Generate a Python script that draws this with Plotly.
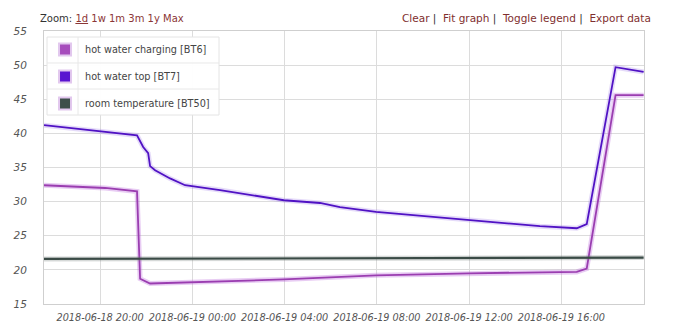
import plotly.graph_objects as go

# ---- data ----
t_bt6 = ["2018-06-18 17:34", "2018-06-18 20:13", "2018-06-18 21:36", "2018-06-18 21:44",
         "2018-06-18 22:10", "2018-06-19 03:58", "2018-06-19 07:58", "2018-06-19 12:00",
         "2018-06-19 16:40", "2018-06-19 17:06", "2018-06-19 18:21", "2018-06-19 19:34"]
v_bt6 = [32.4, 32.0, 31.5, 18.7, 18.0, 18.6, 19.2, 19.5, 19.7, 20.2, 45.6, 45.6]

t_bt7 = ["2018-06-18 17:34", "2018-06-18 21:36", "2018-06-18 21:52", "2018-06-18 22:05",
         "2018-06-18 22:10", "2018-06-18 22:23", "2018-06-18 23:02", "2018-06-18 23:41",
         "2018-06-19 01:12", "2018-06-19 03:58", "2018-06-19 05:32", "2018-06-19 06:24",
         "2018-06-19 07:58", "2018-06-19 12:00", "2018-06-19 15:04", "2018-06-19 16:40",
         "2018-06-19 17:06", "2018-06-19 18:21", "2018-06-19 19:34"]
v_bt7 = [41.2, 39.7, 38.0, 37.1, 35.2, 34.6, 33.4, 32.4, 31.7, 30.2, 29.8, 29.2,
         28.5, 27.3, 26.4, 26.1, 26.7, 49.7, 49.0]

t_bt50 = ["2018-06-18 17:34", "2018-06-19 08:00", "2018-06-19 19:34"]
v_bt50 = [21.6, 21.7, 21.8]

names = ["hot water charging [BT6]", "hot water top [BT7]", "room temperature [BT50]"]
colors = ["#9a3db0", "#5012c4", "#3a4b46"]
swatch = ["#a64cbc", "#5a14d0", "#3d4f4a"]

y_ticks = [15, 20, 25, 30, 35, 40, 45, 50, 55]
x_ticks = ["2018-06-18 20:00", "2018-06-19 00:00", "2018-06-19 04:00",
           "2018-06-19 08:00", "2018-06-19 12:00", "2018-06-19 16:00"]

fig = go.Figure()
series = [(t_bt6, v_bt6), (t_bt7, v_bt7), (t_bt50, v_bt50)]
glow = ["rgba(190,110,220,0.35)", "rgba(150,110,230,0.25)", "rgba(120,130,125,0.3)"]
widths = [1.8, 1.8, 2.2]
for (t, v), c, g, w in zip(series, colors, glow, widths):
    fig.add_trace(go.Scatter(x=t, y=v, mode="lines", line=dict(color=g, width=5),
                             showlegend=False, hoverinfo="skip"))
    fig.add_trace(go.Scatter(x=t, y=v, mode="lines", line=dict(color=c, width=w),
                             showlegend=False))
for i, (n, s) in enumerate(zip(names, swatch)):
    fig.add_trace(go.Scatter(x=[None], y=[None], mode="markers", name=n,
                             legendgroup=str(i),
                             marker=dict(symbol="square", size=14, color=s,
                                         line=dict(color="#e2c8ee", width=1.5))))

# legend table frame
box = dict(xref="paper", yref="paper", layer="above")
shapes = [
    dict(type="rect", x0=0.005, x1=0.2917, y0=0.6923, y1=0.978,
         fillcolor="rgba(255,255,255,0.95)", line=dict(color="#e4e4e4", width=1), **box),
    dict(type="line", x0=0.0567, x1=0.0567, y0=0.6923, y1=0.978,
         line=dict(color="#e8e8e8", width=1), **box),
    dict(type="line", x0=0.005, x1=0.2917, y0=0.8828, y1=0.8828,
         line=dict(color="#e8e8e8", width=1), **box),
    dict(type="line", x0=0.005, x1=0.2917, y0=0.7875, y1=0.7875,
         line=dict(color="#e8e8e8", width=1), **box),
]

fig.update_layout(
    width=673, height=326,
    margin=dict(l=44, r=29, t=31, b=22),
    paper_bgcolor="white", plot_bgcolor="white",
    font=dict(family="DejaVu Sans", size=11, color="#444"),
    showlegend=True,
    shapes=shapes,
    legend=dict(x=0.0017, y=0.985, xanchor="left", yanchor="top",
                bgcolor="rgba(0,0,0,0)", borderwidth=0,
                font=dict(family="DejaVu Sans", size=9.7, color="#444"),
                tracegroupgap=8, traceorder="grouped", itemsizing="constant"),
    xaxis=dict(range=["2018-06-18 17:34", "2018-06-19 19:35"], tickvals=x_ticks,
               ticktext=["<i>%s</i>" % s for s in x_ticks], tickangle=0,
               showgrid=True, gridcolor="#dcdcdc", automargin=False,
               gridwidth=1, showline=True, linecolor="#cfcfcf", mirror=True,
               zeroline=False, ticks="", ticklabelstandoff=4,
               tickfont=dict(family="DejaVu Sans", size=9.7, color="#555")),
    yaxis=dict(range=[15, 55], tickvals=y_ticks,
               ticktext=["<i>%d</i>" % v for v in y_ticks], automargin=False,
               showgrid=True, gridcolor="#dcdcdc",
               gridwidth=1, showline=True, linecolor="#cfcfcf", mirror=True,
               zeroline=False, ticks="", ticklabelstandoff=14,
               tickfont=dict(family="DejaVu Sans", size=10.5, color="#555")),
    annotations=[
        dict(xref="paper", yref="paper", x=-0.01, y=1.0, yshift=13, xanchor="left",
             yanchor="middle", showarrow=False,
             text="<span style='color:#333'>Zoom:</span> <u>1d</u> 1w 1m 3m 1y Max",
             font=dict(family="DejaVu Sans", size=10, color="#8b3636")),
        dict(xref="paper", yref="paper", x=1.015, y=1.0, yshift=13, xanchor="right",
             yanchor="middle", showarrow=False,
             text="Clear <span style='color:#333'>|</span>  Fit graph <span style='color:#333'>|</span>  Toggle legend <span style='color:#333'>|</span>  Export data",
             font=dict(family="DejaVu Sans", size=10.5, color="#7f2f2f")),
    ],
)

fig.write_html("out.html")
